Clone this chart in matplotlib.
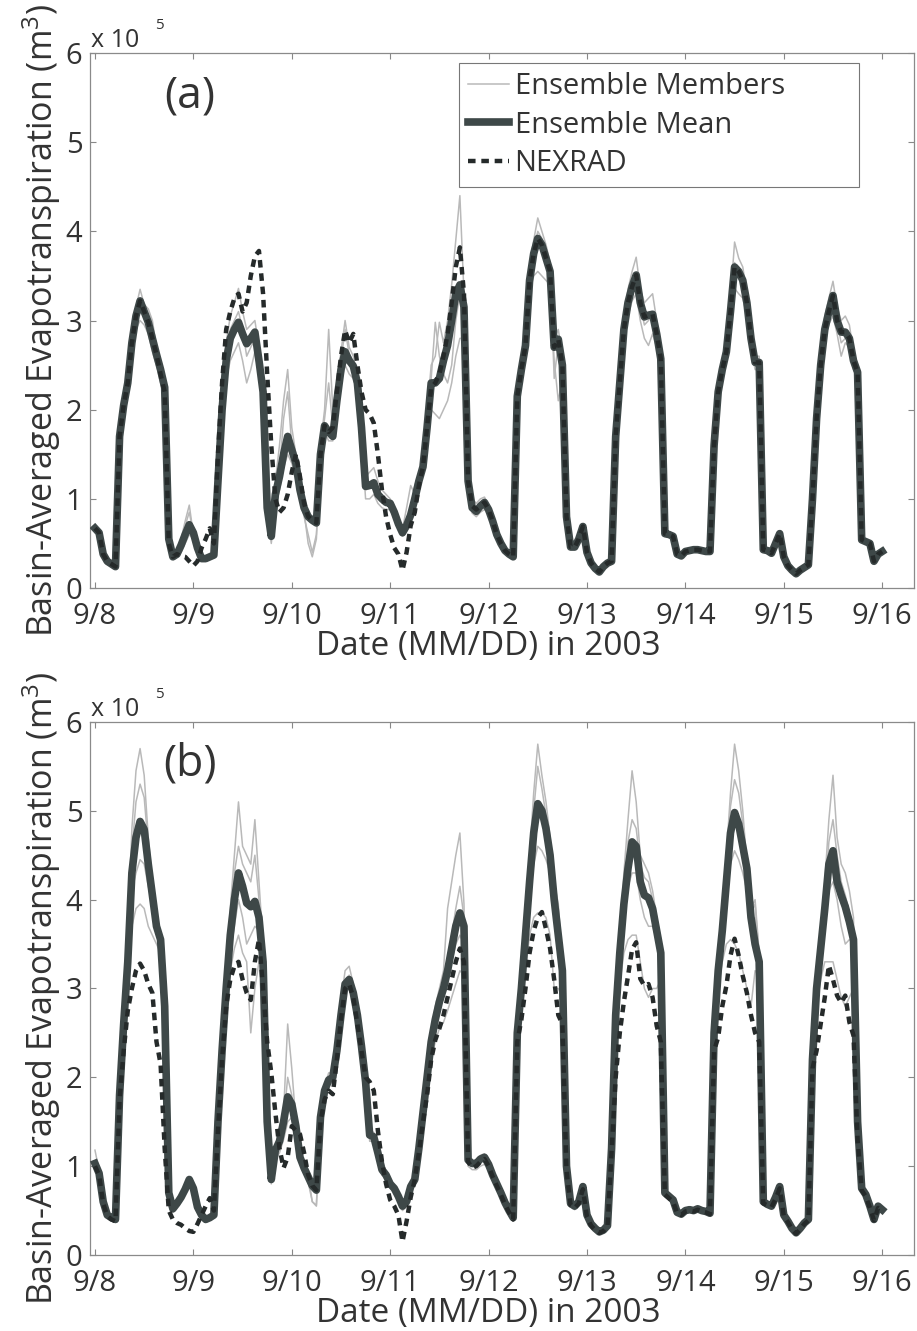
import matplotlib.pyplot as plt
import numpy as np

# hourly values from 9/8 00:00 to 9/16 00:00, unit = 1000 m^3 (plotted as x10^5)
# ---- panel (a)
mean_a = [67, 62, 38, 30, 27, 24, 170, 205, 230, 275, 305, 322, 310, 298, 280, 262, 245, 225, 55, 35, 38, 48, 60, 71,
          62, 45, 33, 33, 35, 37, 120, 200, 255, 280, 290, 298, 285, 274, 280, 287, 255, 220, 90, 58, 105, 125, 150, 170,
          155, 140, 110, 90, 80, 76, 73, 150, 182, 175, 170, 210, 245, 265, 255, 249, 230, 180, 114, 115, 118, 105, 100, 96,
          95, 85, 72, 62, 70, 82, 100, 120, 136, 180, 230, 230, 235, 255, 272, 300, 330, 340, 315, 120, 90, 86, 92, 96,
          88, 75, 60, 50, 42, 38, 35, 215, 245, 272, 345, 375, 392, 385, 370, 355, 270, 279, 250, 80, 46, 46, 55, 69,
          40, 28, 22, 18, 24, 28, 30, 170, 230, 290, 320, 338, 351, 320, 304, 306, 307, 285, 257, 61, 60, 58, 38, 36,
          41, 42, 43, 43, 42, 41, 41, 160, 220, 245, 265, 310, 360, 355, 345, 320, 280, 253, 253, 43, 42, 39, 50, 61,
          35, 25, 20, 16, 20, 23, 26, 100, 190, 250, 290, 310, 328, 300, 287, 287, 280, 255, 242, 54, 52, 50, 30, 38,
          41]
nexrad_a = [67, 62, 38, 30, 27, 24, 170, 205, 230, 275, 305, 322, 310, 298, 280, 262, 240, 220, 50, 35, 38, 36, 35, 30,
            25, 30, 45, 55, 67, 50, 150, 230, 290, 310, 325, 330, 310, 320, 350, 372, 378, 330, 240, 160, 100, 85, 90, 105,
            130, 150, 125, 95, 80, 76, 73, 150, 182, 175, 180, 220, 260, 289, 275, 285, 250, 220, 200, 195, 185, 150, 110, 80,
            60, 45, 38, 20, 40, 70, 85, 115, 136, 180, 225, 230, 240, 260, 285, 320, 360, 382, 330, 120, 92, 88, 92, 96,
            88, 75, 60, 50, 42, 38, 35, 215, 245, 272, 345, 375, 392, 385, 370, 355, 270, 279, 250, 80, 46, 46, 55, 69,
            40, 28, 22, 18, 24, 28, 30, 170, 230, 290, 320, 338, 351, 320, 304, 306, 307, 285, 257, 61, 60, 58, 38, 36,
            41, 42, 43, 43, 42, 41, 41, 160, 220, 245, 265, 310, 360, 355, 345, 320, 280, 253, 253, 43, 42, 39, 50, 61,
            35, 25, 20, 16, 20, 23, 26, 100, 190, 250, 290, 310, 328, 300, 287, 287, 280, 255, 242, 54, 52, 50, 30, 38,
            41]
mem1_a = [68, 62, 40, 31, 28, 25, 172, 210, 240, 285, 315, 335, 318, 313, 300, 270, 250, 230, 60, 38, 42, 55, 75, 93,
          60, 44, 34, 34, 36, 38, 130, 215, 275, 305, 320, 336, 310, 290, 295, 300, 270, 230, 95, 60, 120, 160, 210, 245,
          180, 150, 115, 95, 85, 75, 70, 160, 200, 290, 200, 230, 265, 300, 270, 260, 235, 185, 125, 130, 135, 120, 110, 105,
          100, 90, 78, 68, 75, 90, 115, 128, 145, 195, 250, 260, 298, 275, 300, 340, 390, 440, 330, 130, 100, 95, 100, 102,
          92, 78, 62, 52, 44, 40, 37, 220, 255, 285, 360, 390, 415, 400, 385, 365, 280, 290, 260, 85, 50, 50, 58, 72,
          42, 30, 24, 20, 26, 30, 32, 178, 240, 300, 335, 355, 371, 335, 320, 325, 330, 300, 265, 65, 63, 60, 40, 38,
          43, 44, 45, 45, 44, 43, 43, 165, 228, 255, 278, 325, 388, 370, 360, 330, 290, 260, 260, 45, 44, 41, 53, 64,
          37, 27, 22, 18, 22, 25, 28, 105, 198, 262, 305, 325, 344, 315, 300, 305, 295, 265, 250, 56, 54, 52, 32, 40,
          43]
mem2_a = [66, 60, 36, 28, 25, 22, 165, 198, 220, 262, 290, 300, 295, 285, 265, 250, 230, 210, 50, 32, 35, 40, 50, 60,
          55, 42, 30, 30, 32, 34, 110, 185, 235, 255, 265, 275, 255, 230, 245, 265, 240, 210, 85, 50, 90, 110, 135, 150,
          140, 125, 100, 80, 60, 40, 60, 140, 175, 165, 165, 195, 230, 250, 240, 235, 220, 170, 100, 100, 105, 95, 90, 88,
          88, 80, 70, 58, 64, 75, 90, 110, 128, 170, 200, 195, 190, 200, 210, 230, 260, 280, 280, 110, 84, 80, 85, 88,
          82, 70, 56, 47, 40, 36, 33, 205, 235, 260, 330, 350, 355, 350, 345, 340, 255, 210, 235, 75, 43, 43, 52, 65,
          38, 26, 20, 16, 22, 26, 28, 165, 220, 280, 305, 322, 330, 300, 280, 272, 285, 270, 250, 58, 57, 55, 36, 34,
          39, 40, 41, 41, 40, 39, 39, 155, 212, 235, 255, 295, 336, 330, 325, 305, 268, 245, 245, 41, 40, 37, 48, 58,
          33, 23, 18, 14, 18, 21, 24, 95, 182, 240, 278, 296, 305, 285, 260, 275, 270, 245, 235, 52, 50, 48, 28, 36,
          39]
mem3_a = [67, 63, 39, 30, 27, 24, 168, 208, 235, 280, 310, 325, 305, 290, 275, 258, 240, 222, 57, 36, 40, 50, 70, 85,
          60, 46, 34, 33, 36, 38, 125, 205, 262, 290, 300, 310, 290, 260, 270, 280, 250, 215, 88, 56, 100, 130, 190, 220,
          160, 130, 105, 85, 50, 35, 55, 155, 190, 230, 180, 220, 255, 290, 262, 255, 232, 178, 110, 112, 115, 102, 98, 94,
          92, 84, 74, 66, 90, 115, 105, 118, 134, 180, 235, 298, 260, 240, 230, 250, 300, 330, 320, 115, 88, 84, 90, 94,
          86, 73, 58, 49, 42, 38, 35, 212, 240, 268, 350, 380, 400, 392, 378, 360, 235, 275, 245, 78, 45, 45, 54, 68,
          39, 27, 21, 17, 23, 27, 29, 168, 228, 288, 318, 335, 350, 318, 295, 300, 310, 280, 255, 60, 59, 57, 37, 35,
          40, 41, 42, 42, 41, 40, 40, 158, 218, 242, 262, 308, 365, 352, 340, 318, 278, 250, 250, 42, 41, 38, 49, 60,
          34, 24, 19, 15, 19, 22, 25, 98, 188, 248, 290, 308, 330, 298, 275, 280, 275, 252, 240, 53, 51, 49, 29, 37,
          40]

# ---- panel (b)
mean_b = [103, 92, 60, 45, 42, 40, 180, 260, 330, 430, 470, 488, 479, 440, 405, 370, 355, 280, 70, 52, 58, 65, 74, 85,
          75, 54, 45, 40, 42, 45, 150, 230, 300, 360, 400, 430, 415, 396, 392, 398, 380, 330, 150, 85, 118, 128, 150, 178,
          170, 145, 110, 98, 88, 78, 73, 155, 185, 197, 200, 230, 270, 305, 310, 295, 270, 235, 195, 135, 133, 115, 96, 90,
          80, 75, 66, 55, 60, 77, 85, 120, 160, 200, 240, 265, 285, 300, 320, 345, 370, 385, 370, 107, 103, 103, 108, 110,
          102, 90, 80, 70, 59, 50, 42, 250, 300, 360, 420, 475, 508, 500, 480, 450, 400, 360, 320, 100, 58, 55, 60, 77,
          45, 35, 30, 26, 28, 33, 120, 270, 340, 395, 435, 465, 460, 420, 405, 402, 390, 365, 340, 70, 66, 62, 48, 46,
          50, 51, 50, 52, 50, 49, 47, 250, 320, 365, 420, 475, 498, 485, 460, 435, 380, 350, 330, 60, 57, 55, 65, 77,
          45, 38, 30, 25, 30, 36, 40, 220, 300, 345, 390, 440, 455, 420, 405, 392, 375, 355, 150, 75, 68, 55, 40, 55,
          51]
nexrad_b = [100, 90, 58, 44, 40, 38, 175, 230, 275, 300, 320, 328, 320, 305, 295, 240, 215, 120, 50, 40, 36, 34, 30, 27,
            26, 35, 45, 55, 64, 50, 140, 220, 280, 310, 325, 330, 310, 295, 287, 330, 355, 300, 240, 205, 160, 120, 98, 110,
            145, 140, 136, 115, 90, 78, 73, 150, 175, 185, 181, 220, 265, 300, 305, 290, 260, 230, 200, 195, 185, 140, 105, 80,
            62, 55, 45, 15, 38, 65, 85, 115, 150, 180, 220, 242, 255, 270, 290, 310, 330, 345, 330, 105, 98, 100, 105, 108,
            100, 88, 78, 68, 57, 48, 40, 240, 265, 300, 340, 365, 380, 386, 367, 345, 310, 270, 260, 95, 56, 53, 58, 74,
            43, 33, 28, 25, 27, 32, 115, 200, 250, 285, 314, 344, 352, 311, 303, 305, 290, 258, 240, 68, 64, 60, 47, 45,
            49, 50, 49, 51, 49, 48, 46, 230, 245, 280, 303, 337, 356, 337, 314, 295, 270, 250, 240, 58, 56, 54, 63, 75,
            44, 37, 29, 24, 29, 35, 39, 210, 230, 260, 290, 326, 310, 292, 284, 292, 262, 247, 130, 73, 66, 53, 39, 53,
            50]
mem1_b = [118, 95, 62, 46, 43, 41, 185, 270, 360, 480, 545, 570, 540, 470, 420, 380, 360, 290, 72, 53, 59, 66, 75, 86,
          76, 55, 46, 41, 43, 46, 155, 240, 320, 390, 450, 510, 460, 450, 440, 490, 420, 350, 155, 88, 120, 140, 160, 260,
          210, 150, 112, 100, 90, 60, 56, 160, 190, 205, 205, 240, 285, 320, 325, 305, 280, 240, 200, 140, 138, 118, 98, 92,
          82, 77, 68, 57, 62, 79, 87, 124, 165, 205, 250, 280, 300, 320, 390, 420, 450, 475, 395, 110, 106, 106, 112, 114,
          104, 92, 82, 72, 60, 51, 43, 255, 310, 380, 450, 520, 575, 540, 510, 470, 420, 395, 330, 102, 60, 57, 62, 79,
          46, 36, 31, 27, 29, 34, 124, 280, 360, 430, 490, 545, 510, 450, 440, 430, 410, 380, 355, 72, 68, 64, 49, 47,
          51, 52, 51, 53, 51, 50, 48, 258, 330, 380, 450, 520, 575, 545, 500, 440, 390, 400, 340, 62, 59, 57, 67, 79,
          46, 39, 31, 26, 31, 37, 41, 228, 310, 360, 420, 490, 540, 470, 440, 430, 410, 380, 155, 77, 70, 57, 41, 57,
          52]
mem2_b = [104, 93, 61, 45, 42, 40, 182, 265, 345, 455, 510, 530, 515, 460, 415, 378, 356, 282, 70, 52, 58, 65, 74, 85,
          75, 54, 45, 40, 42, 45, 152, 235, 310, 375, 430, 460, 440, 430, 420, 450, 400, 335, 150, 86, 118, 130, 150, 200,
          180, 148, 110, 98, 88, 78, 72, 155, 185, 200, 202, 235, 275, 310, 315, 298, 272, 236, 196, 135, 134, 116, 96, 90,
          80, 75, 66, 55, 60, 77, 85, 122, 162, 202, 243, 268, 288, 305, 330, 360, 390, 415, 380, 108, 104, 104, 109, 111,
          103, 91, 81, 71, 59, 50, 42, 252, 305, 370, 435, 500, 550, 525, 495, 460, 410, 390, 325, 101, 59, 56, 61, 78,
          45, 35, 30, 26, 28, 33, 121, 275, 350, 415, 465, 490, 480, 440, 425, 420, 400, 370, 348, 71, 67, 63, 48, 46,
          50, 51, 50, 52, 50, 49, 47, 255, 325, 372, 440, 505, 535, 520, 485, 440, 385, 395, 335, 61, 58, 56, 66, 78,
          45, 38, 30, 25, 30, 36, 40, 225, 305, 352, 405, 465, 490, 450, 420, 405, 385, 365, 152, 76, 69, 56, 40, 56,
          51]
mem3_b = [100, 90, 58, 44, 41, 39, 178, 255, 318, 410, 430, 445, 440, 415, 395, 365, 350, 276, 68, 50, 56, 63, 72, 83,
          73, 53, 44, 39, 41, 44, 148, 225, 295, 340, 370, 400, 380, 350, 360, 370, 365, 320, 148, 84, 115, 120, 140, 170,
          165, 142, 108, 96, 86, 76, 70, 152, 182, 195, 198, 228, 268, 302, 308, 290, 268, 232, 194, 132, 132, 114, 94, 88,
          78, 73, 64, 53, 58, 75, 83, 118, 158, 196, 235, 258, 275, 290, 310, 330, 350, 360, 350, 105, 101, 101, 106, 108,
          100, 89, 79, 69, 57, 48, 40, 248, 290, 345, 400, 440, 460, 455, 445, 430, 390, 380, 318, 98, 57, 54, 59, 76,
          44, 34, 29, 25, 27, 32, 118, 268, 335, 390, 415, 430, 430, 400, 380, 370, 370, 355, 338, 69, 65, 61, 47, 45,
          49, 50, 49, 51, 49, 48, 46, 250, 315, 355, 400, 440, 455, 445, 430, 410, 370, 380, 328, 59, 56, 54, 64, 76,
          44, 37, 29, 24, 29, 35, 39, 220, 295, 335, 375, 410, 420, 400, 370, 350, 355, 350, 150, 75, 67, 54, 39, 54,
          50]
mem4_b = [98, 88, 56, 42, 39, 37, 172, 240, 300, 370, 390, 395, 390, 370, 360, 350, 340, 270, 66, 48, 54, 60, 70, 80,
          71, 51, 42, 37, 39, 42, 140, 215, 280, 320, 345, 360, 340, 330, 250, 300, 330, 305, 140, 80, 108, 115, 130, 150,
          155, 135, 104, 92, 82, 60, 55, 148, 178, 190, 195, 222, 262, 298, 302, 285, 262, 228, 190, 128, 128, 110, 90, 84,
          75, 70, 60, 50, 55, 72, 80, 112, 150, 185, 220, 240, 255, 262, 275, 290, 305, 320, 315, 100, 96, 96, 100, 102,
          96, 86, 76, 66, 54, 45, 38, 242, 275, 320, 360, 380, 385, 385, 380, 360, 300, 300, 290, 94, 54, 51, 56, 72,
          42, 32, 27, 23, 25, 30, 112, 258, 305, 340, 355, 360, 360, 330, 300, 290, 300, 300, 310, 66, 62, 58, 45, 43,
          47, 48, 47, 49, 47, 46, 44, 245, 300, 330, 350, 355, 350, 340, 320, 300, 280, 320, 315, 57, 54, 52, 62, 73,
          42, 35, 27, 22, 27, 33, 37, 212, 280, 310, 330, 330, 330, 310, 290, 280, 290, 300, 145, 72, 64, 51, 37, 51,
          48]

date_labels = ['9/8', '9/9', '9/10', '9/11', '9/12', '9/13', '9/14', '9/15', '9/16']

for s in [mean_a, nexrad_a, mem1_a, mem2_a, mem3_a, mean_b, nexrad_b, mem1_b, mem2_b, mem3_b, mem4_b]:
    if len(s) != 193:
        raise ValueError('bad length %d' % len(s))

plt.rcParams['font.family'] = ['Open Sans', 'DejaVu Sans']
plt.rcParams['mathtext.fontset'] = 'custom'
plt.rcParams['mathtext.rm'] = 'Open Sans'
plt.rcParams['mathtext.it'] = 'Open Sans:italic'
plt.rcParams['mathtext.bf'] = 'Open Sans:bold'

txt = '#333333'
mem_col = '#b9b9b9'
mean_col = '#3e4848'
nex_col = '#252a2a'

fig = plt.figure(figsize=(9.17, 13.31), dpi=100)
ax_a = fig.add_axes([0.0981, 0.5582, 0.8986, 0.4020])
ax_b = fig.add_axes([0.0981, 0.0571, 0.8986, 0.4005])


def draw(ax, members, mean, nexrad, tag):
    t = np.arange(len(mean)) / 24.0
    for k, m in enumerate(members):
        ax.plot(t, np.array(m) / 100.0, color=mem_col, lw=1.1,
                label='Ensemble Members' if k == 0 else None, zorder=2)
    ax.plot(t, np.array(mean) / 100.0, color=mean_col, lw=5.5, label='Ensemble Mean', zorder=3)
    ax.plot(t, np.array(nexrad) / 100.0, color=nex_col, lw=3.2, ls=(0, (1.7, 1.3)),
            label='NEXRAD', zorder=4)

    ax.set_xlim(-0.051, 8.323)
    ax.set_ylim(0, 6)
    ax.set_xticks(range(9))
    ax.set_xticklabels(date_labels)
    ax.set_yticks(range(7))
    ax.tick_params(direction='in', length=4, width=0.8, color='#888888',
                   top=True, right=True, labelsize=21, labelcolor=txt)
    ax.tick_params(axis='x', pad=10)
    ax.tick_params(axis='y', pad=5.5)
    for sp in ax.spines.values():
        sp.set_color('#8a8a8a')
        sp.set_linewidth(0.9)

    ax.set_xlabel('Date (MM/DD) in 2003', fontsize=24, color=txt)
    ax.xaxis.set_label_coords(0.483, -0.079)
    ax.set_ylabel('Basin-Averaged Evapotranspiration (m$^3$)', fontsize=24.5, color=txt)
    ax.yaxis.set_label_coords(-0.033, 0.5)

    ax.text(0.001, 1.011, 'x 10', transform=ax.transAxes, fontsize=18, color=txt,
            ha='left', va='baseline')
    ax.text(0.079, 1.045, '5', transform=ax.transAxes, fontsize=11, color=txt,
            ha='left', va='baseline')
    ax.text(0.965, 5.52, tag, fontsize=32, color=txt, ha='center', va='center')


draw(ax_a, [mem1_a, mem2_a, mem3_a], mean_a, nexrad_a, '(a)')
draw(ax_b, [mem1_b, mem2_b, mem3_b, mem4_b], mean_b, nexrad_b, '(b)')

leg = ax_a.legend(loc='upper left', bbox_to_anchor=(0.448, 0.748, 0.485, 0.233), mode='expand',
                  fontsize=21, handlelength=1.4, handletextpad=0.2, borderpad=0.3,
                  labelspacing=0.33, borderaxespad=0, fancybox=False, framealpha=1,
                  edgecolor='#777777')
leg.get_frame().set_linewidth(0.8)
for t in leg.get_texts():
    t.set_color(txt)

fig.savefig('out.png', dpi=100)
